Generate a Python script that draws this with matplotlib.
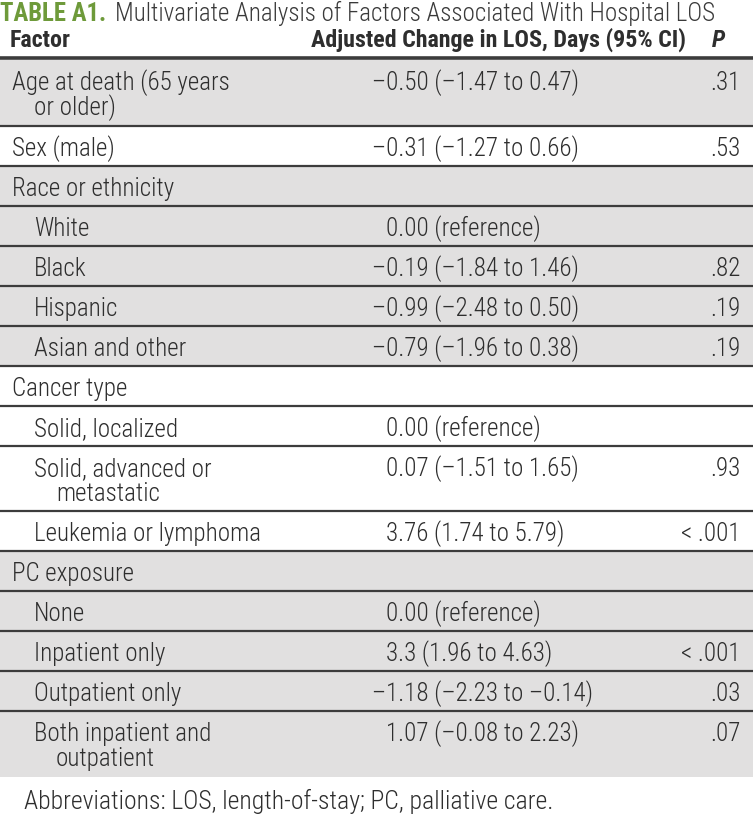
import matplotlib
matplotlib.use("Agg")
import matplotlib.pyplot as plt
from matplotlib import font_manager
from matplotlib.patches import Rectangle

# table content
factors = [
    "Age at death (65 years\nor older)",
    "Sex (male)",
    "Race or ethnicity",
    "White",
    "Black",
    "Hispanic",
    "Asian and other",
    "Cancer type",
    "Solid, localized",
    "Solid, advanced or\nmetastatic",
    "Leukemia or lymphoma",
    "PC exposure",
    "None",
    "Inpatient only",
    "Outpatient only",
    "Both inpatient and\noutpatient",
]
indent = [0, 0, 0, 1, 1, 1, 1, 0, 1, 1, 1, 0, 1, 1, 1, 1]
shaded = [1, 0, 1, 1, 1, 1, 1, 0, 0, 0, 0, 1, 1, 1, 1, 1]
estimates = [
    "–0.50 (–1.47 to 0.47)",
    "–0.31 (–1.27 to 0.66)",
    "",
    "0.00 (reference)",
    "–0.19 (–1.84 to 1.46)",
    "–0.99 (–2.48 to 0.50)",
    "–0.79 (–1.96 to 0.38)",
    "",
    "0.00 (reference)",
    "0.07 (–1.51 to 1.65)",
    "3.76 (1.74 to 5.79)",
    "",
    "0.00 (reference)",
    "3.3 (1.96 to 4.63)",
    "–1.18 (–2.23 to –0.14)",
    "1.07 (–0.08 to 2.23)",
]
pvalues = [".31", ".53", "", "", ".82", ".19", ".19", "", "", ".93", "< .001",
           "", "", "< .001", ".03", ".07"]

title_label = "TABLE A1."
title_text = "Multivariate Analysis of Factors Associated With Hospital LOS"
headers = ["Factor", "Adjusted Change in LOS, Days (95% CI)", "P"]
footnote = "Abbreviations: LOS, length-of-stay; PC, palliative care."

# pick a narrow face if one is installed
available = {f.name for f in font_manager.fontManager.ttflist}
family = "DejaVu Sans"
for name in ["Roboto Condensed", "Liberation Sans Narrow", "DejaVu Sans Condensed"]:
    if name in available:
        family = name
        break
plt.rcParams["font.family"] = [family, "DejaVu Sans"]

GREEN = "#6e9a3a"
TEXT = "#2e2e2e"
GRAY = "#e1e0e0"
LINE = "#3c3c3c"

W, H = 753, 822
fig = plt.figure(figsize=(W / 100, H / 100), dpi=100)
ax = fig.add_axes([0, 0, 1, 1])
ax.set_xlim(0, W)
ax.set_ylim(H, 0)
ax.axis("off")

body_fs = 18
# title
t = ax.text(0, 21, title_label + " ", fontsize=17.8, fontweight="bold", color=GREEN,
            va="baseline", ha="left")
fig.canvas.draw()
x_after = t.get_window_extent().x1 + 3
ax.annotate(title_text, xy=(x_after, H - 21), xycoords="figure pixels",
            fontsize=18, fontweight="light", color="#3a3a3a", va="baseline", ha="left")

# header
hdr_base = 47
hdr_fs = 17.3
ax.text(10, hdr_base, headers[0], fontsize=hdr_fs, fontweight="bold", color=TEXT, va="baseline")
ax.text(686, hdr_base, headers[1], fontsize=hdr_fs, fontweight="bold", color=TEXT,
        va="baseline", ha="right")
ax.text(712, hdr_base, headers[2], fontsize=hdr_fs, fontweight="bold", style="italic",
        color=TEXT, va="baseline")
ax.plot([0, W], [58.5, 58.5], color=LINE, lw=2.6, solid_capstyle="butt")

# body rows
single_h, double_h = 40, 65.7
top = 60
for i, label in enumerate(factors):
    lines = label.split("\n")
    h = single_h if len(lines) == 1 else double_h
    if shaded[i]:
        ax.add_patch(Rectangle((0, top), W, h, facecolor=GRAY, edgecolor="none", zorder=0))
    x0 = 12 + 22 * indent[i]
    for k, ln in enumerate(lines):
        ax.text(x0 + (22 if k else 0), top + 30 + 25 * k, ln, fontsize=body_fs,
                fontweight="light", color=TEXT, va="baseline", ha="left")
    est = estimates[i]
    if est:
        ex = 372 if est.startswith("–") else 386
        ax.text(ex, top + 30, est, fontsize=body_fs, fontweight="light", color=TEXT,
                va="baseline", ha="left")
    if pvalues[i]:
        ax.text(741, top + 30, pvalues[i], fontsize=body_fs, fontweight="light",
                color=TEXT, va="baseline", ha="right")
    top += h
    if i < len(factors) - 1:
        ax.plot([0, W], [top, top], color=LINE, lw=1.6, solid_capstyle="butt", zorder=2)

# footnote
ax.text(24, 809, footnote, fontsize=18.5, fontweight="light", color=TEXT,
        va="baseline", ha="left")

fig.savefig("out.png", dpi=100, facecolor="white")
